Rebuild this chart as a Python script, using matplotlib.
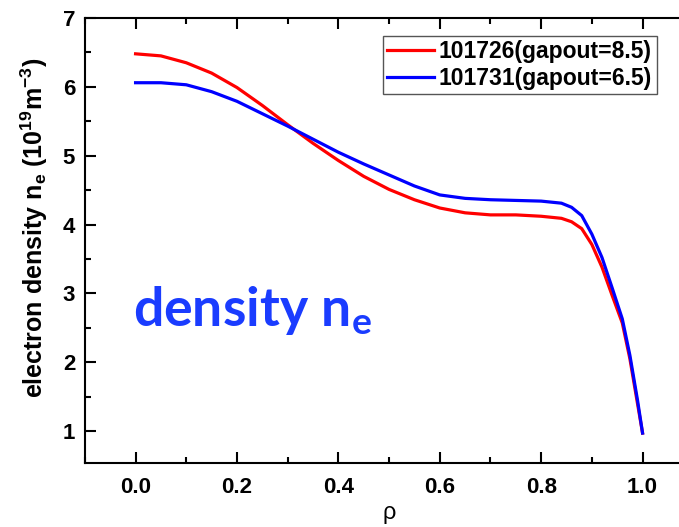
import matplotlib
matplotlib.use('Agg')
import matplotlib.pyplot as plt
from matplotlib.ticker import MultipleLocator

# rho grid and density profiles (10^19 m^-3)
rho = [0.0, 0.05, 0.1, 0.15, 0.2, 0.25, 0.3, 0.35, 0.4, 0.45, 0.5, 0.55, 0.6, 0.65,
       0.7, 0.75, 0.8, 0.84, 0.86, 0.88, 0.9, 0.92, 0.94, 0.96, 0.975, 0.99, 1.0]
ne_101726 = [6.48, 6.45, 6.35, 6.20, 5.99, 5.73, 5.45, 5.18, 4.93, 4.70, 4.51, 4.36, 4.24, 4.17,
             4.14, 4.14, 4.12, 4.09, 4.04, 3.94, 3.71, 3.38, 2.97, 2.57, 2.05, 1.40, 0.97]
ne_101731 = [6.06, 6.06, 6.03, 5.93, 5.79, 5.61, 5.43, 5.24, 5.05, 4.88, 4.72, 4.56, 4.43, 4.38,
             4.36, 4.35, 4.34, 4.31, 4.25, 4.13, 3.86, 3.52, 3.08, 2.63, 2.10, 1.45, 0.97]
labels = ['101726(gapout=8.5)', '101731(gapout=6.5)']
xticks = [0.0, 0.2, 0.4, 0.6, 0.8, 1.0]
yticks = [1, 2, 3, 4, 5, 6, 7]

plt.rcParams['font.family'] = ['Liberation Sans', 'DejaVu Sans']

fig = plt.figure(figsize=(6.79, 5.27), dpi=100)
# right edge of the frame sits outside the picture, like the original crop
ax = fig.add_axes([0.125, 0.1214, 0.896, 0.8444])

ax.plot(rho, ne_101726, color='#ff0000', linewidth=2.3, label=labels[0])
ax.plot(rho, ne_101731, color='#0000ff', linewidth=2.3, label=labels[1])

ax.set_xlim(-0.1, 1.1)
ax.set_ylim(0.535, 7)
ax.set_xticks(xticks)
ax.set_yticks(yticks)
ax.xaxis.set_minor_locator(MultipleLocator(0.1))
ax.yaxis.set_minor_locator(MultipleLocator(0.5))
ax.tick_params(which='both', direction='in', top=True, right=False, width=1.5)
ax.tick_params(which='major', length=8, labelsize=16)
ax.tick_params(axis='x', which='major', pad=10)
ax.tick_params(axis='y', which='major', pad=7)
ax.tick_params(which='minor', length=4)
for lab in ax.get_xticklabels() + ax.get_yticklabels():
    lab.set_fontweight('bold')
for sp in ax.spines.values():
    sp.set_linewidth(1.5)

ax.set_xlabel('ρ', fontsize=17, labelpad=3)
ax.set_ylabel(r'electron density n$_\mathregular{e}$ (10$^\mathregular{19}$m$^\mathregular{-3}$)',
              fontsize=18, fontweight='bold')
ax.yaxis.set_label_coords(-0.057, 0.528)

leg = ax.legend(loc='upper right', bbox_to_anchor=(0.94, 0.96), prop={'weight': 'bold', 'size': 16.5},
                handlelength=2.05, handletextpad=0.2, borderpad=0.2, labelspacing=0.15,
                borderaxespad=0, fancybox=False, edgecolor='#555555', framealpha=1)
leg.get_frame().set_linewidth(1.0)

ax.text(-0.006, 2.53, r'density n$_\mathregular{e}$', color='#1a3cff', fontsize=38.5,
        fontweight='bold', family=['Lato', 'DejaVu Sans'])

fig.savefig('out.png', dpi=100)
